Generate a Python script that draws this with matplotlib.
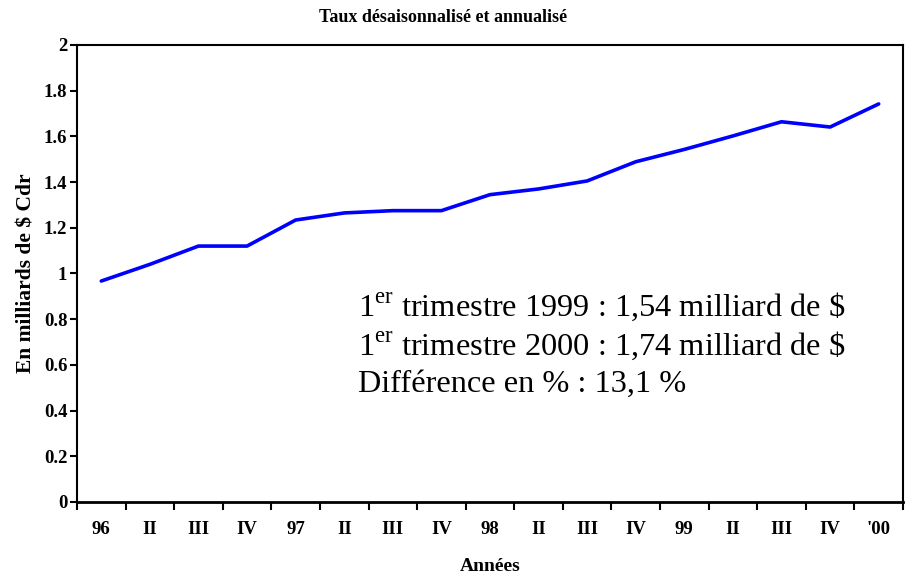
import matplotlib
matplotlib.use("Agg")
import matplotlib.pyplot as plt
import numpy as np

categories = ["96", "II", "III", "IV", "97", "II", "III", "IV", "98", "II", "III", "IV",
              "99", "II", "III", "IV", "'00"]
values = [0.967, 1.04, 1.12, 1.12, 1.234, 1.265, 1.275, 1.275, 1.345, 1.37, 1.405, 1.489,
          1.543, 1.602, 1.664, 1.641, 1.742]
yticks = [0, 0.2, 0.4, 0.6, 0.8, 1, 1.2, 1.4, 1.6, 1.8, 2]
ytick_labels = ["0", "0.2", "0.4", "0.6", "0.8", "1", "1.2", "1.4", "1.6", "1.8", "2"]

plt.rcParams['font.family'] = ['Liberation Serif', 'DejaVu Serif']
plt.rcParams['mathtext.fontset'] = 'custom'
plt.rcParams['mathtext.rm'] = 'Liberation Serif'

fig = plt.figure(figsize=(9.09, 5.79), dpi=100)
ax = fig.add_axes([0.0847, 0.133, 0.9087, 0.7893])

x = np.arange(len(categories))
ax.plot(x, values, color='#0000FF', linewidth=2.6, solid_capstyle='round')

ax.set_xlim(-0.5, len(categories) - 0.5)
ax.set_ylim(0, 2)

ax.set_yticks(yticks)
ax.set_yticklabels(ytick_labels, fontsize=13.5, fontweight='bold')
ax.set_xticks(x)
ax.set_xticklabels(categories, fontsize=13.5, fontweight='bold')
ax.tick_params(axis='x', length=0, pad=14)
ax.set_xticks(np.arange(-0.5, len(categories) + 0.5, 1), minor=True)
ax.tick_params(axis='x', which='minor', direction='out', length=6, width=1.5)
ax.tick_params(axis='y', direction='out', length=5, width=1.5, pad=2)

for s in ax.spines.values():
    s.set_linewidth(1.5)
ax.spines['bottom'].set_linewidth(2)

ax.set_xlabel("Années", fontsize=14, fontweight='bold', labelpad=14)
ax.set_ylabel("En milliards de \\$ Cdr", fontsize=15.5, fontweight='bold', labelpad=5)
fig.text(0.487, 0.97, "Taux désaisonnalisé et annualisé", ha='center', va='center',
         fontsize=13, fontweight='bold')

lines = [r"1$^{\mathrm{er}}$ trimestre 1999 : 1,54 milliard de \$",
         r"1$^{\mathrm{er}}$ trimestre 2000 : 1,74 milliard de \$",
         "Différence en % : 13,1 %"]
ys = [0.408, 0.322, 0.240]
for t, yy in zip(lines, ys):
    ax.text(0.340, yy, t, transform=ax.transAxes, fontsize=23.3, ha='left', va='baseline')

fig.savefig("out.png", dpi=100)
